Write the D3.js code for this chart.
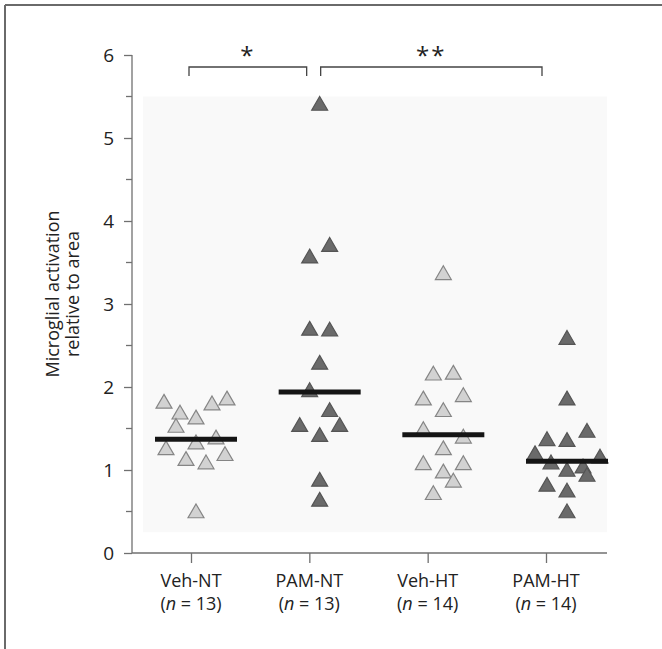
<!DOCTYPE html>
<html>
<head>
<meta charset="utf-8">
<script src="https://cdn.jsdelivr.net/npm/d3@7"></script>
<style>
    body { margin: 0; background: #fff; }
    svg text { font-family: "Open Sans", "DejaVu Sans", sans-serif; }
</style>
</head>
<body>
<svg id="chart" width="662" height="649"></svg>
<script>
// groups and their sample sizes
const groups = ['Veh-NT', 'PAM-NT', 'Veh-HT', 'PAM-HT'];
const groupN = [13, 13, 14, 14];
const groupShade = ['light', 'dark', 'light', 'dark'];

// values, with horizontal jitter slots (1 slot ~ 10 px)
const vehNT = [1.80, 1.67, 1.61, 1.78, 1.84, 1.51, 1.24, 1.31, 1.37, 1.11, 1.07, 1.17, 0.48];
const vehNTSlot = [-3.2, -1.6, 0, 1.6, 3.1, -2, -3, 0, 2, -1, 1, 2.9, 0];

const pamNT = [5.39, 3.69, 3.55, 2.68, 2.67, 2.27, 1.94, 1.70, 1.52, 1.52, 1.40, 0.86, 0.62];
const pamNTSlot = [0, 1, -1, -1, 1, 0, -1, 1, -2, 2, 0, 0, 0];

const vehHT = [3.35, 2.14, 2.15, 1.84, 1.88, 1.70, 1.47, 1.38, 1.24, 1.06, 1.06, 0.96, 0.85, 0.70];
const vehHTSlot = [0, -1, 1, -2, 2, 0, -2, 2, 0, -2, 2, 0, 1, -1];

const pamHT = [2.57, 1.84, 1.45, 1.35, 1.34, 1.18, 1.07, 0.98, 1.02, 0.92, 0.80, 0.73, 0.48, 1.14];
const pamHTSlot = [0, 0, 2, -2, 0, -3.2, -1.6, 0, 1.6, 2, -2, 0, 0, 3.3];

const yTicks = [0, 1, 2, 3, 4, 5, 6];
const yMinorTicks = [0.5, 1.5, 2.5, 3.5, 4.5, 5.5];

// significance brackets: [from group, to group, label]
const brackets = [['Veh-NT', 'PAM-NT', '*'], ['PAM-NT', 'PAM-HT', '**']];

const values = [vehNT, pamNT, vehHT, pamHT];
const slots = [vehNTSlot, pamNTSlot, vehHTSlot, pamHTSlot];

const svg = d3.select('#chart');

// frame lines (top and left only)
svg.append('line').attr('x1', 5).attr('x2', 662).attr('y1', 5).attr('y2', 5)
    .attr('stroke', '#6a6a6a').attr('stroke-width', 2);
svg.append('line').attr('x1', 5).attr('x2', 5).attr('y1', 5).attr('y2', 649)
    .attr('stroke', '#6a6a6a').attr('stroke-width', 2);

const y = d3.scaleLinear().domain([0, 6]).range([553, 55]);
const x = d3.scalePoint().domain(groups).range([191, 546]);
const xData = d3.scalePoint().domain(groups).range([196, 567]);
const jitter = d3.scaleLinear().domain([-1, 1]).range([-10, 10]);

const AXIS_LEFT = 132, AXIS_RIGHT = 607;
const axisColor = '#707070';
const textColor = '#222';

// faint plotting background
svg.append('rect')
    .attr('x', 143).attr('width', 607 - 143)
    .attr('y', y(5.5)).attr('height', y(0.25) - y(5.5))
    .attr('fill', '#f9f9f9');

// y axis
const yAxisG = svg.append('g').attr('transform', `translate(${AXIS_LEFT},0)`)
    .call(d3.axisLeft(y).tickValues(yTicks).tickSize(8).tickPadding(10).tickFormat(d3.format('d')));
yAxisG.append('g').selectAll('line')
    .data(yMinorTicks)
    .enter()
    .append('line')
    .attr('x1', -6).attr('x2', 0)
    .attr('y1', d => y(d)).attr('y2', d => y(d));
yAxisG.select('.domain').attr('d', `M0,${y(6)}V${y(0)}`);
yAxisG.selectAll('path, line').attr('stroke', axisColor).attr('stroke-width', 1.3);
yAxisG.selectAll('text').attr('font-size', 19).attr('fill', textColor)
    .attr('font-family', '"Open Sans", sans-serif');

// x axis
const xAxisG = svg.append('g').attr('transform', `translate(0,${y(0)})`)
    .call(d3.axisBottom(x).tickSize(10).tickFormat(''));
xAxisG.select('.domain').attr('d', `M${AXIS_LEFT},0H${AXIS_RIGHT}`);
xAxisG.selectAll('path, line').attr('stroke', axisColor).attr('stroke-width', 1.3);

// category labels, two lines each
const catLabels = svg.append('g').selectAll('text')
    .data(groups)
    .enter()
    .append('text')
    .attr('text-anchor', 'middle')
    .attr('font-size', 18)
    .attr('fill', textColor);
catLabels.append('tspan')
    .attr('x', d => x(d)).attr('y', 587)
    .text(d => d);
const nLine = catLabels.append('tspan')
    .attr('x', d => x(d)).attr('y', 610);
nLine.append('tspan').text('(');
nLine.append('tspan').attr('font-style', 'italic').text('n');
nLine.append('tspan').text((d, i) => ` = ${groupN[i]})`);

// y axis title
svg.append('text')
    .attr('transform', 'translate(59,294) rotate(-90)')
    .attr('text-anchor', 'middle')
    .attr('font-size', 18)
    .attr('fill', textColor)
    .selectAll('tspan')
    .data(['Microglial activation', 'relative to area'])
    .enter()
    .append('tspan')
    .attr('x', 0)
    .attr('dy', (d, i) => i === 0 ? 0 : 20)
    .text(d => d);

// points
const triangle = d3.symbol().type(d3.symbolTriangle).size(110);
const shadeStyle = {
    light: {fill: '#d2d2d2', stroke: '#858585'},
    dark: {fill: '#6a6a6a', stroke: '#555555'}
};

groups.forEach((g, gi) => {
    const pts = values[gi].map((v, i) => ({v: v, s: slots[gi][i]}));
    const style = shadeStyle[groupShade[gi]];
    svg.append('g')
        .selectAll('path')
        .data(pts)
        .enter()
        .append('path')
        .attr('d', triangle)
        .attr('transform', d => `translate(${xData(g) + jitter(d.s)},${y(d.v)})`)
        .attr('fill', style.fill)
        .attr('stroke', style.stroke)
        .attr('stroke-width', 1.2);

    // median bar
    const med = d3.median(values[gi]);
    svg.append('line')
        .attr('x1', xData(g) - 41).attr('x2', xData(g) + 41)
        .attr('y1', y(med)).attr('y2', y(med))
        .attr('stroke', '#151515')
        .attr('stroke-width', 5);
});

// significance brackets
const bracketY = 67, legH = 9;
brackets.forEach(([a, b, label], bi) => {
    const x1 = xData(a) - (bi === 0 ? 7 : -1);
    const x2 = bi === 0 ? xData(b) - 13 : x(b) - 4;
    svg.append('path')
        .attr('d', `M${x1},${bracketY + legH}V${bracketY}H${x2}V${bracketY + legH}`)
        .attr('fill', 'none')
        .attr('stroke', '#444')
        .attr('stroke-width', 1.3);
    svg.append('text')
        .attr('x', (x1 + x2) / 2)
        .attr('y', bracketY - 3)
        .attr('text-anchor', 'middle')
        .attr('font-size', 24)
        .attr('fill', textColor)
        .attr('letter-spacing', 2)
        .text(label);
});
</script>
</body>
</html>
